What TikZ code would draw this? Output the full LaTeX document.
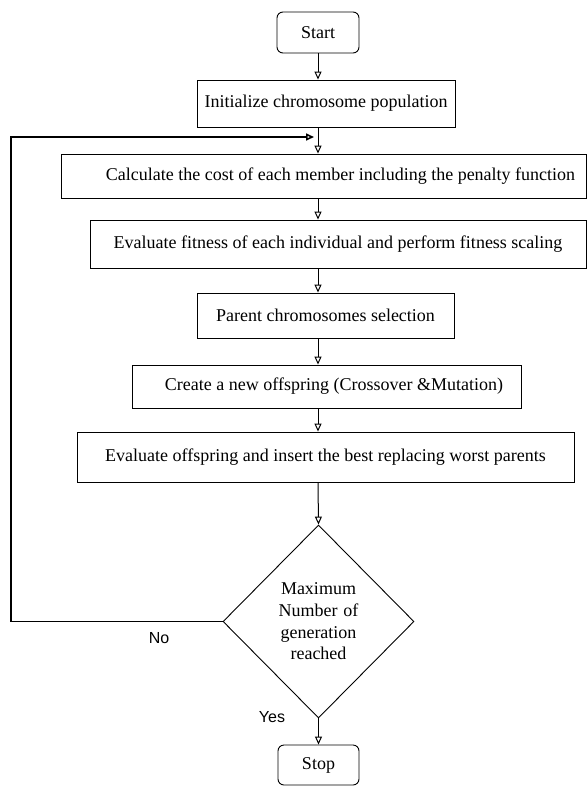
\documentclass[tikz,border=0pt]{standalone}
\usepackage{fontspec}
\setmainfont{Liberation Serif}
\newfontfamily\labelfont{Liberation Sans}
\usetikzlibrary{positioning, arrows.meta, shapes.geometric}

\tikzset{
  stepbox/.style={draw, line width=0.9pt, inner sep=0pt, align=center,
    font=\fontsize{18}{20}\selectfont},
  termbox/.style={stepbox, rounded corners=6pt, minimum width=82pt, minimum height=41pt},
  testbox/.style={draw, diamond, line width=0.9pt, inner sep=0pt, align=center,
    text width=100pt, minimum width=191pt, minimum height=193pt,
    font=\fontsize{18}{21.7}\selectfont},
  arr/.style={-{Triangle[open, length=8pt, width=7pt]}, line width=1pt},
  yesno/.style={font=\labelfont\fontsize{16}{18}\selectfont, inner sep=0pt}
}

\begin{document}
\begin{tikzpicture}[x=1pt, y=-1pt]
\useasboundingbox (0,0) rectangle (587,788);

\node[termbox] (start) at (318,32.5) {Start};
\node[stepbox, minimum width=258pt, minimum height=47pt] (init) at (326,103.5) {Initialize chromosome population};
\node[stepbox, minimum width=525pt, minimum height=44pt] (calc) at (323.5,176) {\hspace*{34pt}Calculate the cost of each member including the penalty function};
\node[stepbox, minimum width=496pt, minimum height=48pt] (fit) at (338,244) {Evaluate fitness of each individual and perform fitness scaling};
\node[stepbox, minimum width=257pt, minimum height=45pt] (parent) at (325.5,315.5) {Parent chromosomes selection};
\node[stepbox, minimum width=389pt, minimum height=43pt] (child) at (326.5,386.5) {\hspace*{15pt}Create a new offspring (Crossover \&Mutation)};
\node[stepbox, minimum width=497pt, minimum height=50pt] (insert) at (325.5,457) {Evaluate offspring and insert the best replacing worst parents};
\node[testbox] (check) at (318.5,621.5) {Maximum\\Number of\\generation\\reached};
\node[termbox, minimum width=81pt, minimum height=40pt] (stop) at (318.5,765) {Stop};

\coordinate (lft) at (11,137);
\coordinate (join) at (314,137);

\draw[arr] (start.south) -- (start.south |- init.north);
\draw[arr] (start.south |- init.south) -- (start.south |- calc.north);
\draw[arr] (start.south |- calc.south) -- (start.south |- fit.north);
\draw[arr] (start.south |- fit.south) -- (start.south |- parent.north);
\draw[arr] (start.south |- parent.south) -- (start.south |- child.north);
\draw[arr] (start.south |- child.south) -- (start.south |- insert.north);
\draw[arr] (start.south |- insert.south) -- (check.north);
\draw[arr] (check.south) -- (check.south |- stop.north);
\draw[arr, line width=1.6pt] (check.west) -| (lft) -- (join);

\node[yesno] (no) at (159,638) {No};
\node[yesno] (yes) at (272,717) {Yes};
\end{tikzpicture}
\end{document}
